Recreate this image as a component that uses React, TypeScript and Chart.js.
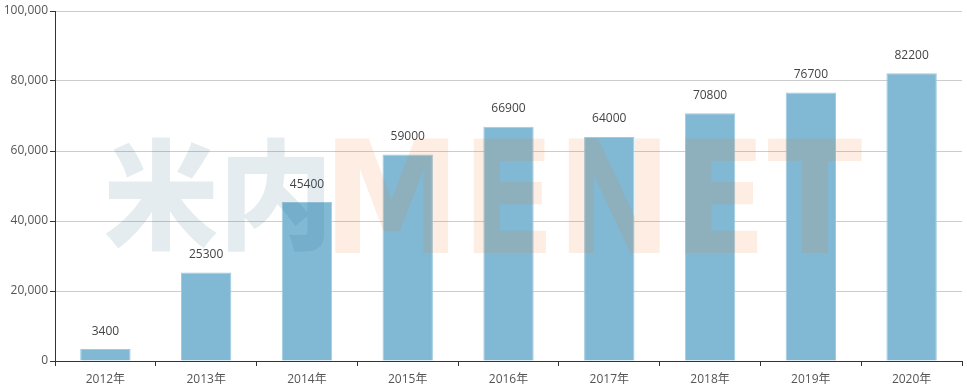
import React, { useEffect, useRef } from "react";
import { Chart, registerables } from "chart.js";

Chart.register(...registerables);

const categories = ["2012年", "2013年", "2014年", "2015年", "2016年", "2017年", "2018年", "2019年", "2020年"];
const values = [3400, 25300, 45400, 59000, 66900, 64000, 70800, 76700, 82200];
const yTicks = [0, 20000, 40000, 60000, 80000, 100000];
const watermarkCn = "米内";
const watermarkEn = "MENET";

const FONT = "'Open Sans', 'Noto Sans CJK SC', sans-serif";

function fitText(ctx: CanvasRenderingContext2D, text: string, font: string, x0: number, y0: number, x1: number, y1: number, color: string) {
  ctx.save();
  ctx.font = font;
  ctx.textBaseline = "alphabetic";
  ctx.textAlign = "left";
  const m = ctx.measureText(text);
  const w = m.actualBoundingBoxLeft + m.actualBoundingBoxRight;
  const h = m.actualBoundingBoxAscent + m.actualBoundingBoxDescent;
  const sx = (x1 - x0) / w;
  const sy = (y1 - y0) / h;
  ctx.translate(x0, y0);
  ctx.scale(sx, sy);
  ctx.fillStyle = color;
  ctx.fillText(text, m.actualBoundingBoxLeft, m.actualBoundingBoxAscent);
  ctx.restore();
}

const watermarkPlugin = {
  id: "watermark",
  afterDraw(chart: any) {
    const ctx = chart.ctx as CanvasRenderingContext2D;
    fitText(ctx, watermarkCn, "900 100px 'Noto Sans CJK SC'", 105, 137, 325, 253, "rgba(30,100,130,0.12)");
    fitText(ctx, watermarkEn, "bold 100px 'DejaVu Sans'", 335, 137, 862, 253, "rgba(240,110,20,0.12)");
  },
};

const labelPlugin = {
  id: "barLabels",
  afterDatasetsDraw(chart: any) {
    const ctx = chart.ctx as CanvasRenderingContext2D;
    const meta = chart.getDatasetMeta(0);
    ctx.save();
    ctx.font = `12px ${FONT}`;
    ctx.fillStyle = "#444";
    ctx.textAlign = "center";
    ctx.textBaseline = "middle";
    meta.data.forEach((bar: any, i: number) => {
      ctx.fillText(String(values[i]), bar.x, bar.y - 18);
    });
    ctx.restore();
  },
};

export default function App() {
  const ref = useRef<HTMLCanvasElement>(null);
  useEffect(() => {
    const chart = new Chart(ref.current!, {
      type: "bar",
      data: {
        labels: categories,
        datasets: [
          {
            data: values,
            backgroundColor: "#81b9d4",
            borderColor: "#9fcbe0",
            borderWidth: 1,
            categoryPercentage: 1,
            barPercentage: 0.5,
          },
        ],
      },
      options: {
        animation: false,
        responsive: false,
        maintainAspectRatio: false,
        layout: { padding: { top: 11, right: 5, left: 0, bottom: 0 } },
        plugins: { legend: { display: false }, tooltip: { enabled: false } },
        scales: {
          x: {
            grid: {
              offset: true,
              drawOnChartArea: false,
              drawTicks: true,
              tickLength: 5,
              color: "#333",
            },
            border: { color: "#333", width: 1 },
            ticks: { color: "#555", font: { size: 12, family: FONT }, padding: 6, maxRotation: 0 },
            afterFit(scale: any) {
              scale.height = 29;
            },
          },
          y: {
            min: 0,
            max: 100000,
            afterBuildTicks(scale: any) {
              scale.ticks = yTicks.map((v) => ({ value: v }));
            },
            grid: { color: "#ccc", tickLength: 5, tickColor: "#333" },
            border: { color: "#333", width: 1 },
            ticks: {
              color: "#555",
              font: { size: 12, family: FONT },
              padding: 2,
              callback: (v: any) => Number(v).toLocaleString("en-US"),
            },
            afterFit(scale: any) {
              scale.width = 55;
            },
          },
        },
      },
      plugins: [labelPlugin, watermarkPlugin],
    });
    return () => chart.destroy();
  }, []);
  return (
    <div style={{ position: "fixed", left: 0, top: 0, width: 967, height: 390, background: "#fff" }}>
      <canvas ref={ref} width={967} height={390} style={{ width: 967, height: 390 }} />
    </div>
  );
}
